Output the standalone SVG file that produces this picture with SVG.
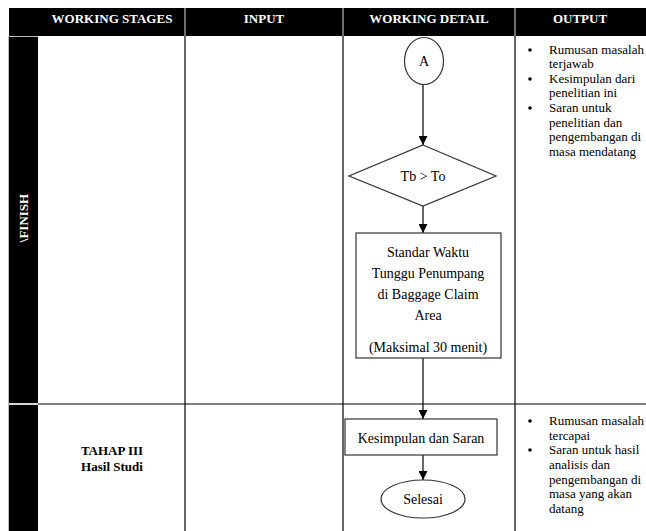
<svg xmlns="http://www.w3.org/2000/svg" width="646" height="531" viewBox="0 0 646 531">
<style>
text{font-family:"Liberation Serif","Times New Roman",Tinos,"DejaVu Serif",serif}
.hdr{font-weight:bold;font-size:13px;fill:#fff;text-anchor:middle}
.t{font-size:14px;fill:#000;text-anchor:middle}
.o{font-size:13px;fill:#000}
.b{font-weight:bold;font-size:13px;fill:#000;text-anchor:middle}
.grid{stroke:#000;stroke-width:1.2;fill:none}
.shape{fill:#fff;stroke:#333;stroke-width:1.2}
.conn{stroke:#000;stroke-width:1.2;fill:none}
</style>
<defs>
<marker id="arr" viewBox="0 0 10 10" refX="10" refY="5" markerWidth="9" markerHeight="9" markerUnits="userSpaceOnUse" orient="auto">
<path d="M0,0 L10,5 L0,10 z" fill="#000"/>
</marker>
</defs>
<rect width="646" height="531" fill="#fff"/>
<g id="table">
<rect x="9" y="8" width="637" height="28" fill="#000"/>
<line x1="185" y1="8" x2="185" y2="36" stroke="#ddd" stroke-width="1"/>
<line x1="343" y1="8" x2="343" y2="36" stroke="#ddd" stroke-width="1"/>
<line x1="515" y1="8" x2="515" y2="36" stroke="#ddd" stroke-width="1"/>
<rect x="9" y="37" width="29" height="366" fill="#000"/>
<rect x="9" y="405" width="29" height="126" fill="#000"/>
<line x1="9" y1="36.5" x2="38" y2="36.5" stroke="#bbb" stroke-width="1"/>
<line x1="9" y1="404" x2="38" y2="404" stroke="#bbb" stroke-width="1.2"/>
<line x1="8.5" y1="36" x2="8.5" y2="531" stroke="#bbb" stroke-width="1"/>
<line class="grid" x1="38" y1="404" x2="646" y2="404"/>
<line class="grid" x1="185" y1="36" x2="185" y2="531"/>
<line class="grid" x1="343" y1="36" x2="343" y2="531"/>
<line class="grid" x1="515" y1="36" x2="515" y2="531"/>
<text class="hdr" x="112" y="23">WORKING STAGES</text>
<text class="hdr" x="264" y="23">INPUT</text>
<text class="hdr" x="429" y="23">WORKING DETAIL</text>
<text class="hdr" x="580" y="23">OUTPUT</text>
<text class="hdr" font-size="12" transform="translate(28,218) rotate(-90)">\FINISH</text>
<text class="b" x="112" y="455">TAHAP III</text>
<text class="b" x="112" y="471">Hasil Studi</text>
</g>
<g id="output1" class="o">
<circle cx="530" cy="50" r="1.8"/><text x="549" y="54">Rumusan masalah</text>
<text x="549" y="68">terjawab</text>
<circle cx="530" cy="79" r="1.8"/><text x="549" y="83">Kesimpulan dari</text>
<text x="549" y="97">penelitian ini</text>
<circle cx="530" cy="108" r="1.8"/><text x="549" y="112">Saran untuk</text>
<text x="549" y="127">penelitian dan</text>
<text x="549" y="141">pengembangan di</text>
<text x="549" y="156">masa mendatang</text>
</g>
<g id="output2" class="o">
<circle cx="530" cy="421" r="1.8"/><text x="549" y="425">Rumusan masalah</text>
<text x="549" y="440">tercapai</text>
<circle cx="530" cy="450" r="1.8"/><text x="549" y="454">Saran untuk hasil</text>
<text x="549" y="469">analisis dan</text>
<text x="549" y="484">pengembangan di</text>
<text x="549" y="498">masa yang akan</text>
<text x="549" y="513">datang</text>
</g>
<g id="connectors">
<line class="conn" x1="423" y1="84" x2="423" y2="145" marker-end="url(#arr)"/>
<line class="conn" x1="423" y1="206" x2="423" y2="233" marker-end="url(#arr)"/>
<line class="conn" x1="423" y1="358" x2="423" y2="419" marker-end="url(#arr)"/>
<line class="conn" x1="423" y1="455" x2="423" y2="480" marker-end="url(#arr)"/>
</g>
<g id="nodeA">
<ellipse class="shape" cx="424" cy="61" rx="19.5" ry="23.5"/>
<text class="t" x="424" y="66">A</text>
</g>
<g id="decision">
<polygon class="shape" points="423,145 496,176 423,206 349,176"/>
<text class="t" x="423" y="181">Tb &gt; To</text>
</g>
<g id="standard">
<rect class="shape" x="356" y="233" width="145" height="125"/>
<text class="t" x="428" y="257">Standar Waktu</text>
<text class="t" x="428" y="278">Tunggu Penumpang</text>
<text class="t" x="428" y="299">di Baggage Claim</text>
<text class="t" x="428" y="320">Area</text>
<text class="t" x="428" y="352">(Maksimal 30 menit)</text>
</g>
<g id="conclusion">
<rect class="shape" x="345" y="419" width="152" height="36"/>
<text class="t" x="421" y="443">Kesimpulan dan Saran</text>
</g>
<g id="end">
<ellipse class="shape" cx="423" cy="499" rx="42" ry="19"/>
<text class="t" x="423" y="504">Selesai</text>
</g>
</svg>
